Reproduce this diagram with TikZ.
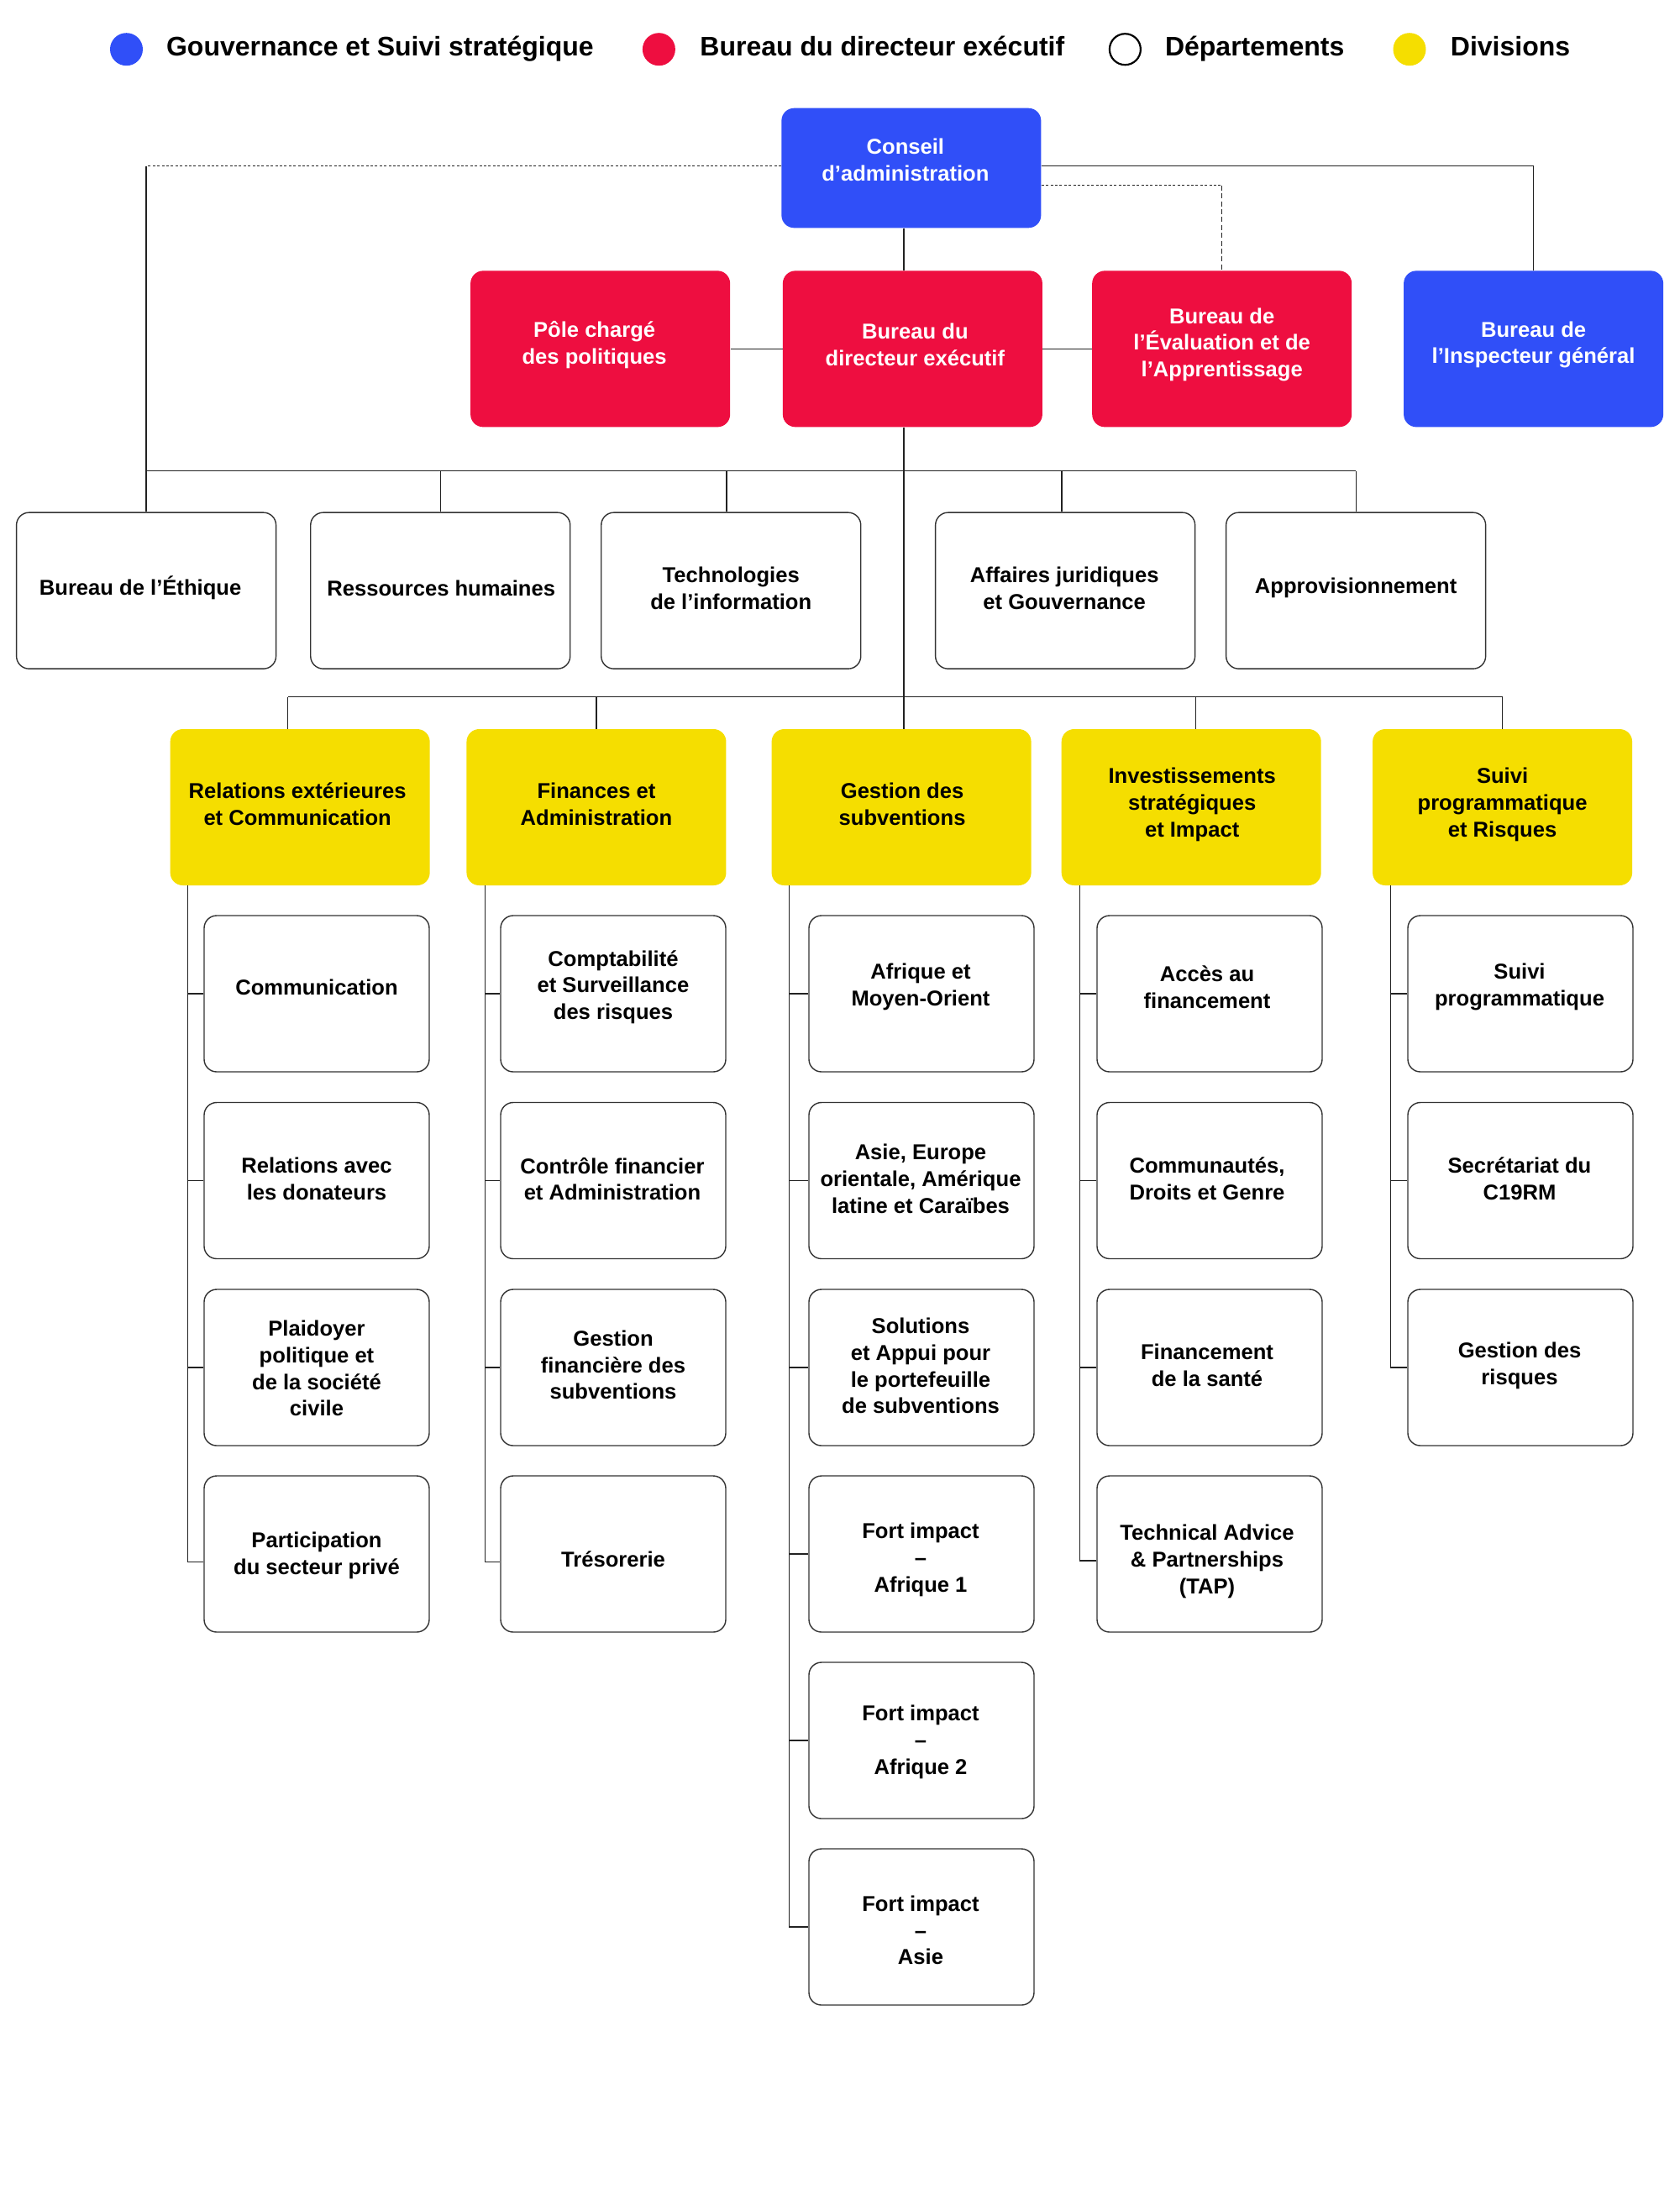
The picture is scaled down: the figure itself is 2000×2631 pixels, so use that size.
\documentclass[tikz,border=0pt]{standalone}
\usepackage{fontspec}
\setmainfont{Liberation Sans}
\usetikzlibrary{calc}
\definecolor{gblue}{HTML}{304FF8}
\definecolor{gred}{HTML}{EE0E40}
\definecolor{gyellow}{HTML}{F5DE00}
\definecolor{lineclr}{HTML}{222222}
\definecolor{bordclr}{HTML}{333333}
% box node + its text node, shifted by (dx,dy) pixels
\newcommand{\orgbox}[7]{%
  \node[#1] (#2) at (#3,#4) {};
  \node[#1txt] (#2t) at ($(#2.center)+(#5,#6)$) {#7};}
\begin{document}
\begin{tikzpicture}[x=0.5pt,y=-0.5pt,
  box/.style={rounded corners=7.5pt, inner sep=0pt},
  txt/.style={align=center, inner sep=0pt, font=\bfseries\fontsize{12.8}{15.85}\selectfont},
  bluebox/.style={box, fill=gblue, minimum width=154.5pt, minimum height=93pt},
  blueboxtxt/.style={txt, text=white},
  redbox/.style={box, fill=gred, minimum width=154.5pt, minimum height=93pt},
  redboxtxt/.style={txt, text=white},
  deptbox/.style={box, draw=bordclr, line width=0.7pt, fill=white, minimum width=154.5pt, minimum height=93pt},
  deptboxtxt/.style={txt, text=black},
  divbox/.style={box, fill=gyellow, minimum width=154.5pt, minimum height=93pt},
  divboxtxt/.style={txt, text=black},
  subbox/.style={box, draw=bordclr, line width=0.7pt, fill=white, minimum width=134pt, minimum height=93pt},
  subboxtxt/.style={txt, text=black},
  cabox/.style={bluebox, minimum height=71.3pt},
  caboxtxt/.style={txt, text=white},
  conn/.style={draw=lineclr, line width=0.65pt},
  dotconn/.style={conn, dash pattern=on 1.5pt off 1.2pt},
  dashconn/.style={conn, dash pattern=on 3pt off 1.7pt},
  legdot/.style={circle, minimum size=19.5pt, inner sep=0pt},
  legtext/.style={anchor=base west, inner sep=0pt, font=\bfseries\fontsize{16}{19}\selectfont},
]
\fill[white] (0,0) rectangle (2000,2631);
\useasboundingbox (0,0) rectangle (2000,2631);

% legend
\node[legdot, fill=gblue] (lg1) at (150.5,58.7) {};
\node[legtext] (lt1) at (197.7,66.5) {Gouvernance et Suivi stratégique};
\node[legdot, fill=gred] (lg2) at (784.4,58.7) {};
\node[legtext] (lt2) at (833,66.5) {Bureau du directeur exécutif};
\node[legdot, draw=black, line width=1.1pt, fill=white, minimum size=18.5pt] (lg3) at (1339.4,58.7) {};
\node[legtext] (lt3) at (1386.6,66.5) {Départements};
\node[legdot, fill=gyellow] (lg4) at (1678,58.7) {};
\node[legtext] (lt4) at (1726.5,66.5) {Divisions};

% top levels
\orgbox{cabox}{ca}{1084.85}{200}{-7}{-10}{Conseil\\d’administration}
\orgbox{redbox}{pole}{714.65}{415.35}{-7}{-5}{Pôle chargé\\des politiques}
\orgbox{redbox}{bde}{1086.4}{415.35}{3}{-5}{Bureau du\\directeur exécutif}
\orgbox{redbox}{eval}{1454.7}{415.35}{0}{-5}{Bureau de\\l’Évaluation et de\\l’Apprentissage}
\orgbox{bluebox}{insp}{1825.6}{415.35}{0}{-5}{Bureau de\\l’Inspecteur général}

% departments
\orgbox{deptbox}{eth}{174.1}{703.15}{-7}{-3}{Bureau de l’Éthique}
\orgbox{deptbox}{rh}{524.25}{703.15}{1}{-3}{Ressources humaines}
\orgbox{deptbox}{ti}{870.25}{703.15}{0}{-3}{Technologies\\de l’information}
\orgbox{deptbox}{aj}{1268.15}{703.15}{-1}{-3}{Affaires juridiques\\et Gouvernance}
\orgbox{deptbox}{appro}{1614.15}{703.15}{0}{-3}{Approvisionnement}

% divisions
\orgbox{divbox}{rel}{357.15}{961}{-3}{-4}{Relations extérieures\\et Communication}
\orgbox{divbox}{fin}{709.95}{961}{0}{-4}{Finances et\\Administration}
\orgbox{divbox}{gs}{1073.1}{961}{1}{-4}{Gestion des\\subventions}
\orgbox{divbox}{inv}{1418.2}{961}{1}{-3}{Investissements\\stratégiques\\et Impact}
\orgbox{divbox}{suivi}{1788.6}{961}{0}{-3}{Suivi\\programmatique\\et Risques}

% column 1
\orgbox{subbox}{s11}{377}{1183}{0}{-8}{Communication}
\orgbox{subbox}{s12}{377}{1405.5}{0}{-2}{Relations avec\\les donateurs}
\orgbox{subbox}{s13}{377}{1628}{0}{1}{Plaidoyer\\politique et\\de la société\\civile}
\orgbox{subbox}{s14}{377}{1850}{0}{2}{Participation\\du secteur privé}
% column 2
\orgbox{subbox}{s21}{730}{1183}{0}{-8}{Comptabilité\\et Surveillance\\des risques}
\orgbox{subbox}{s22}{730}{1405.5}{-1}{-2}{Contrôle financier\\et Administration}
\orgbox{subbox}{s23}{730}{1628}{0}{-3}{Gestion\\financière des\\subventions}
\orgbox{subbox}{s24}{730}{1850}{0}{6}{Trésorerie}
% column 3
\orgbox{subbox}{s31}{1097}{1183}{-1}{-8}{Afrique et\\Moyen-Orient}
\orgbox{subbox}{s32}{1097}{1405.5}{-1}{-2}{Asie, Europe\\orientale, Amérique\\latine et Caraïbes}
\orgbox{subbox}{s33}{1097}{1628}{-1}{-2}{Solutions\\et Appui pour\\le portefeuille\\de subventions}
\orgbox{subbox}{s34}{1097}{1850}{-1}{7}{Fort impact\\–\\Afrique 1}
\orgbox{subbox}{s35}{1097}{2072}{-1}{2}{Fort impact\\–\\Afrique 2}
\orgbox{subbox}{s36}{1097}{2294}{-1}{4}{Fort impact\\–\\Asie}
% column 4
\orgbox{subbox}{s41}{1440}{1183}{-3}{-8}{Accès au\\financement}
\orgbox{subbox}{s42}{1440}{1405.5}{-3}{-2}{Communautés,\\Droits et Genre}
\orgbox{subbox}{s43}{1440}{1628}{-3}{-3}{Financement\\de la santé}
\orgbox{subbox}{s44}{1440}{1850}{-3}{9}{Technical Advice\\\& Partnerships\\(TAP)}
% column 5
\orgbox{subbox}{s51}{1810}{1183}{-1}{-8}{Suivi\\programmatique}
\orgbox{subbox}{s52}{1810}{1405.5}{-1}{-2}{Secrétariat du\\C19RM}
\orgbox{subbox}{s53}{1810}{1628}{-1}{-2}{Gestion des\\risques}

% connectors top
\coordinate (trunk) at (1076,0);
\draw[conn] (ca.south -| trunk) -- (bde.north -| trunk);
\draw[conn] (bde.south -| trunk) -- (gs.north -| trunk);
\coordinate (caw) at ($(ca.west)+(0,-2.3)$);
\coordinate (cae1) at ($(ca.east)+(0,-2.7)$);
\draw[dotconn] (caw) -- (caw -| eth.north);
\draw[conn] (caw -| eth.north) -- (eth.north);
\draw[conn] (cae1) -| (insp.north);
\coordinate (cae) at ($(ca.east)+(0,20.7)$);
\draw[dotconn] (cae) -- (cae -| eval.north);
\draw[dashconn] (cae -| eval.north) -- (eval.north);
\draw[conn] (pole.east) -- (bde.west);
\draw[conn] (bde.east) -- (eval.west);

% department bus
\coordinate (dbus) at (0,560.7);
\draw[conn] (eth.north |- dbus) -- (appro.north |- dbus);
\coordinate (tid) at ($(ti.north)+(-5.4,0)$);
\coordinate (ajd) at ($(aj.north)+(-4.1,0)$);
\draw[conn] (rh.north |- dbus) -- (rh.north);
\draw[conn] (tid |- dbus) -- (tid);
\draw[conn] (ajd |- dbus) -- (ajd);
\draw[conn] (appro.north |- dbus) -- (appro.north);

% division bus
\coordinate (vbus) at (0,829.5);
\coordinate (reld) at ($(rel.north)+(-14.6,0)$);
\coordinate (invd) at ($(inv.north)+(5.3,0)$);
\draw[conn] (reld |- vbus) -- (suivi.north |- vbus);
\draw[conn] (reld |- vbus) -- (reld);
\draw[conn] (fin.north |- vbus) -- (fin.north);
\draw[conn] (invd |- vbus) -- (invd);
\draw[conn] (suivi.north |- vbus) -- (suivi.north);

% sub-unit brackets
\coordinate (l1) at ($(rel.south west)+(21.5,0)$);
\coordinate (l2) at ($(fin.south west)+(22.3,0)$);
\coordinate (l3) at ($(gs.south west)+(21.5,0)$);
\coordinate (l4) at ($(inv.south west)+(22,0)$);
\coordinate (l5) at ($(suivi.south west)+(21.5,0)$);

\draw[conn] (l1) |- (s11.west);
\draw[conn] (l1) |- (s12.west);
\draw[conn] (l1) |- (s13.west);
\draw[conn] (l1) |- ($(s14.west)+(0,9.5)$);

\draw[conn] (l2) |- (s21.west);
\draw[conn] (l2) |- (s22.west);
\draw[conn] (l2) |- (s23.west);
\draw[conn] (l2) |- ($(s24.west)+(0,9.5)$);

\draw[conn] (l3) |- (s31.west);
\draw[conn] (l3) |- (s32.west);
\draw[conn] (l3) |- (s33.west);
\draw[conn] (l3) |- (s34.west);
\draw[conn] (l3) |- (s35.west);
\draw[conn] (l3) |- (s36.west);

\draw[conn] (l4) |- (s41.west);
\draw[conn] (l4) |- (s42.west);
\draw[conn] (l4) |- (s43.west);
\draw[conn] (l4) |- ($(s44.west)+(0,8)$);

\draw[conn] (l5) |- (s51.west);
\draw[conn] (l5) |- (s52.west);
\draw[conn] (l5) |- (s53.west);
\end{tikzpicture}
\end{document}
